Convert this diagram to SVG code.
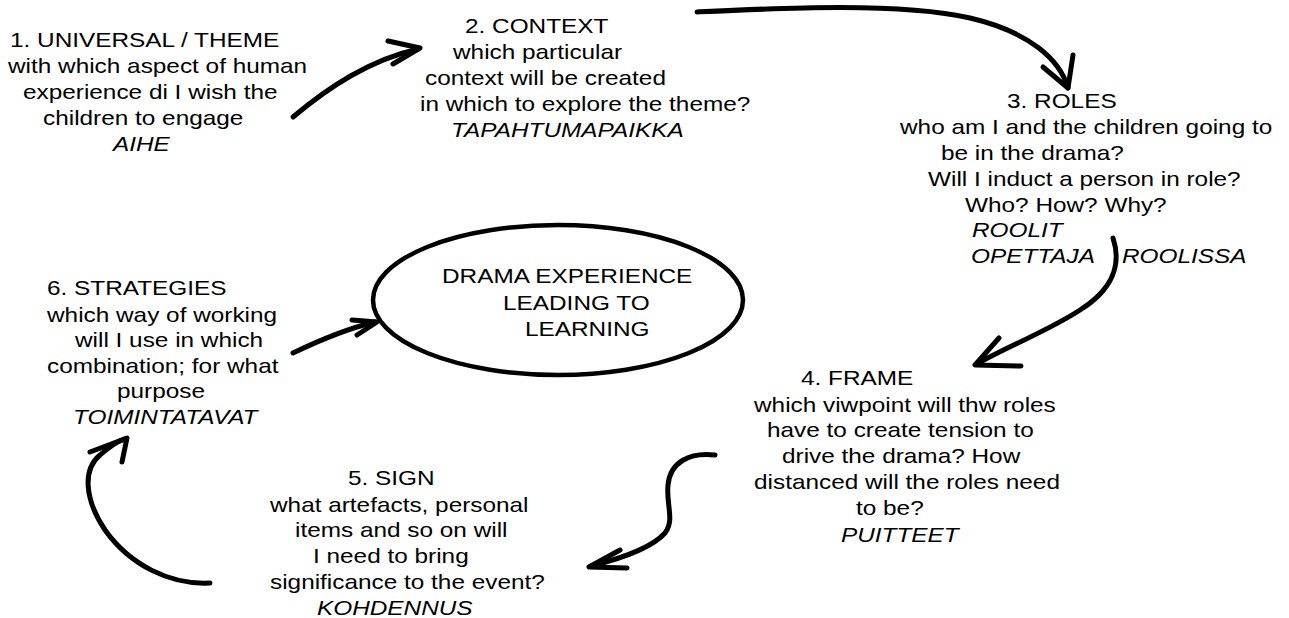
<svg xmlns="http://www.w3.org/2000/svg" width="1289" height="618" viewBox="0 0 1289 618">
<style>
text{font-family:"Liberation Sans",Arial,sans-serif;font-size:21px;fill:#000}
.i{font-style:italic}
.c{fill:none;stroke:#000;stroke-width:5;stroke-linecap:round;stroke-linejoin:round}
.e{fill:#fff;stroke:#000;stroke-width:4.5}
</style>
<rect width="1289" height="618" fill="#fff"/>
<g id="connectors">
<path class="c" d="M293,117 C330,86 370,60 418,49"/>
<path class="c" d="M388,41 L420,48 L393,64"/>
<path class="c" d="M697,12 C780,8 900,2 970,18 C1030,32 1060,60 1068,88"/>
<path class="c" d="M1043,67 L1068,88 L1073,55"/>
<path class="c" d="M1113,238 C1122,265 1112,290 1080,310 C1050,330 1000,350 977,364"/>
<path class="c" d="M999,338 L975,365 L1021,366"/>
<path class="c" d="M715,455 C690,452 670,462 668,485 C666,505 675,520 665,533 C650,550 615,560 591,566"/>
<path class="c" d="M620,550 L589,567 L627,568"/>
<path class="c" d="M210,583 C170,585 130,565 105,530 C85,500 82,470 100,455 C110,446 118,441 125,439"/>
<path class="c" d="M90,452 L127,438 L122,462"/>
<path class="c" d="M293,353 C320,340 350,328 375,322"/>
<path class="c" d="M352,320 L377,322 L357,335"/>
</g>
<g id="center">
<ellipse class="e" cx="558" cy="300" rx="185" ry="75"/>
<text transform="translate(442,283) scale(1.16,1)">DRAMA EXPERIENCE</text>
<text transform="translate(503,310) scale(1.16,1)">LEADING TO</text>
<text transform="translate(525,336) scale(1.16,1)">LEARNING</text>
</g>
<g id="node1">
<text transform="translate(10,47) scale(1.16,1)">1. UNIVERSAL / THEME</text>
<text transform="translate(8,73) scale(1.16,1)">with which aspect of human</text>
<text transform="translate(23,99) scale(1.16,1)">experience di I wish the</text>
<text transform="translate(43,125) scale(1.16,1)">children to engage</text>
<text class="i" transform="translate(113,151) scale(1.16,1)">AIHE</text>
</g>
<g id="node2">
<text transform="translate(465,33) scale(1.16,1)">2. CONTEXT</text>
<text transform="translate(453,59) scale(1.16,1)">which particular</text>
<text transform="translate(425,85) scale(1.16,1)">context will be created</text>
<text transform="translate(420,111) scale(1.16,1)">in which to explore the theme?</text>
<text class="i" transform="translate(451,137) scale(1.16,1)">TAPAHTUMAPAIKKA</text>
</g>
<g id="node3">
<text transform="translate(1007,108) scale(1.16,1)">3. ROLES</text>
<text transform="translate(900,134) scale(1.16,1)">who am I and the children going to</text>
<text transform="translate(941,160) scale(1.16,1)">be in the drama?</text>
<text transform="translate(928,186) scale(1.16,1)">Will I induct a person in role?</text>
<text transform="translate(965,212) scale(1.16,1)">Who? How? Why?</text>
<text class="i" transform="translate(972,237) scale(1.16,1)">ROOLIT</text>
<text class="i" transform="translate(971,263) scale(1.16,1)">OPETTAJA</text>
<text class="i" transform="translate(1122,263) scale(1.16,1)">ROOLISSA</text>
</g>
<g id="node4">
<text transform="translate(801,385) scale(1.16,1)">4. FRAME</text>
<text transform="translate(754,412) scale(1.16,1)">which viwpoint will thw roles</text>
<text transform="translate(767,437) scale(1.16,1)">have to create tension to</text>
<text transform="translate(782,463) scale(1.16,1)">drive the drama? How</text>
<text transform="translate(754,489) scale(1.16,1)">distanced will the roles need</text>
<text transform="translate(856,515) scale(1.16,1)">to be?</text>
<text class="i" transform="translate(841,542) scale(1.16,1)">PUITTEET</text>
</g>
<g id="node5">
<text transform="translate(348,485) scale(1.16,1)">5. SIGN</text>
<text transform="translate(270,512) scale(1.16,1)">what artefacts, personal</text>
<text transform="translate(295,537) scale(1.16,1)">items and so on will</text>
<text transform="translate(313,563) scale(1.16,1)">I need to bring</text>
<text transform="translate(270,589) scale(1.16,1)">significance to the event?</text>
<text class="i" transform="translate(317,615) scale(1.16,1)">KOHDENNUS</text>
</g>
<g id="node6">
<text transform="translate(47,295) scale(1.16,1)">6. STRATEGIES</text>
<text transform="translate(47,322) scale(1.16,1)">which way of working</text>
<text transform="translate(75,347) scale(1.16,1)">will I use in which</text>
<text transform="translate(47,373) scale(1.16,1)">combination; for what</text>
<text transform="translate(117,398) scale(1.16,1)">purpose</text>
<text class="i" transform="translate(73,424) scale(1.16,1)">TOIMINTATAVAT</text>
</g>
</svg>
